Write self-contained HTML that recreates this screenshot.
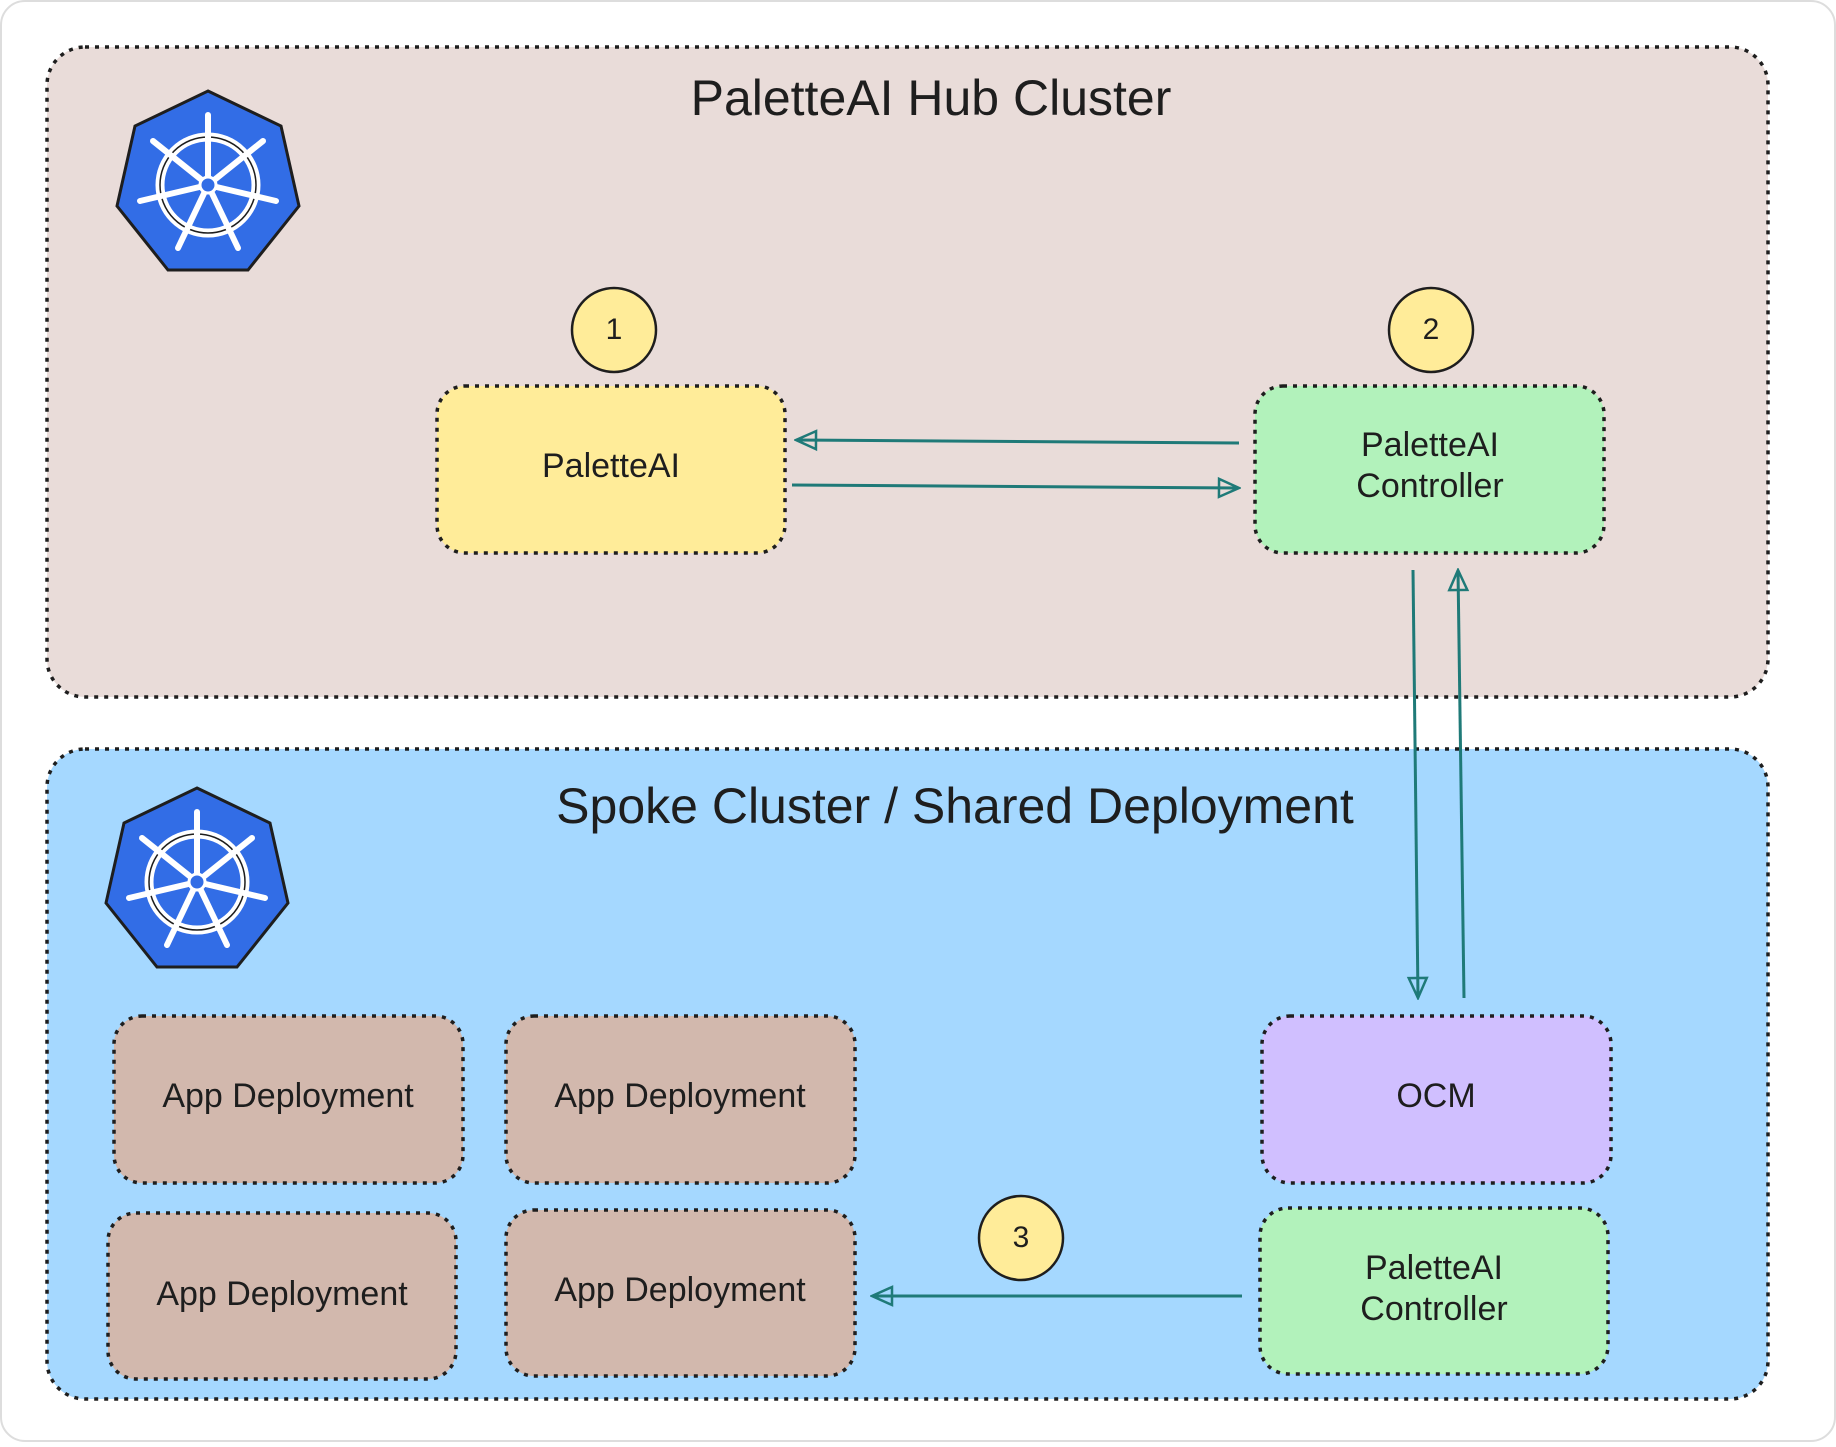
<!DOCTYPE html>
<html><head><meta charset="utf-8"><style>
body{margin:0;background:#fff;}
svg text{font-family:"Liberation Sans",sans-serif;fill:#1e1e1e;text-anchor:middle;dominant-baseline:middle;}
</style></head><body>
<svg width="1836" height="1442" viewBox="0 0 1836 1442" xmlns="http://www.w3.org/2000/svg">
<defs>
<marker id="ah" viewBox="0 0 24 24" refX="22" refY="12" markerWidth="24" markerHeight="24" markerUnits="userSpaceOnUse" orient="auto">
<path d="M2,3 L22,12 L2,21 Z" fill="none" stroke="#1f7a78" stroke-width="2.5"/>
</marker>
<g id="k8s">
<polygon points="0,-94 73,-59 91,21 40,85 -40,85 -91,21 -73,-59" fill="#326de6" stroke="#1e1e1e" stroke-width="3"/>
<circle r="48" fill="none" stroke="#fff" stroke-width="9"/>
<circle r="48" fill="none" stroke="#1e1e1e" stroke-width="1.5"/>
<g stroke="#fff" stroke-width="6" stroke-linecap="round">
<line x1="0" y1="0" x2="0" y2="-70"/><line x1="0" y1="0" x2="55" y2="-44"/><line x1="0" y1="0" x2="68" y2="16"/><line x1="0" y1="0" x2="30" y2="63"/><line x1="0" y1="0" x2="-30" y2="63"/><line x1="0" y1="0" x2="-68" y2="16"/><line x1="0" y1="0" x2="-55" y2="-44"/>
</g>
<circle r="8" fill="#326de6" stroke="#fff" stroke-width="3"/>
</g>
</defs>
<rect x="1" y="1" width="1834" height="1440" rx="24" fill="#fff" stroke="#ddd" stroke-width="2"/>
<rect x="47" y="47" width="1721" height="650" rx="38" fill="#e9dcd9" stroke="#1e1e1e" stroke-width="3.5" stroke-dasharray="4 6"/>
<rect x="47" y="749" width="1721" height="650" rx="38" fill="#a5d8ff" stroke="#1e1e1e" stroke-width="3.5" stroke-dasharray="4 6"/>
<text x="931" y="102" font-size="50">PaletteAI Hub Cluster</text>
<text x="955" y="810" font-size="50">Spoke Cluster / Shared Deployment</text>
<use href="#k8s" x="208" y="185"/>
<use href="#k8s" x="197" y="882"/>
<g stroke="#1e1e1e" stroke-width="3.5" stroke-dasharray="4 6">
<rect x="437" y="386" width="348" height="167" rx="28" fill="#ffec99"/>
<rect x="1255" y="386" width="349" height="167" rx="28" fill="#b2f2bb"/>
<rect x="1262" y="1016" width="349" height="167" rx="28" fill="#d0bfff"/>
<rect x="1260" y="1208" width="348" height="166" rx="28" fill="#b2f2bb"/>
<rect x="114" y="1016" width="349" height="167" rx="28" fill="#d2b8ad"/>
<rect x="506" y="1016" width="349" height="167" rx="28" fill="#d2b8ad"/>
<rect x="108" y="1213" width="348" height="166" rx="28" fill="#d2b8ad"/>
<rect x="506" y="1210" width="349" height="166" rx="28" fill="#d2b8ad"/>
</g>
<g font-size="34">
<text x="611" y="468">PaletteAI</text>
<text x="1430" y="447">PaletteAI</text><text x="1430" y="488">Controller</text>
<text x="1436" y="1098">OCM</text>
<text x="1434" y="1270">PaletteAI</text><text x="1434" y="1311">Controller</text>
<text x="288" y="1098">App Deployment</text>
<text x="680" y="1098">App Deployment</text>
<text x="282" y="1296">App Deployment</text>
<text x="680" y="1292">App Deployment</text>
</g>
<g fill="#ffec99" stroke="#1e1e1e" stroke-width="2.5">
<circle cx="614" cy="330" r="42"/><circle cx="1431" cy="330" r="42"/><circle cx="1021" cy="1238" r="42"/>
</g>
<g font-size="30"><text x="614" y="331">1</text><text x="1431" y="331">2</text><text x="1021" y="1239">3</text></g>
<g stroke="#1f7a78" stroke-width="3" fill="none" marker-end="url(#ah)">
<path d="M1239,443 L796,440"/>
<path d="M792,485 L1239,488"/>
<path d="M1413,570 L1418,998"/>
<path d="M1464,998 L1458,570"/>
<path d="M1242,1296 L872,1296"/>
</g>
</svg>
</body></html>
